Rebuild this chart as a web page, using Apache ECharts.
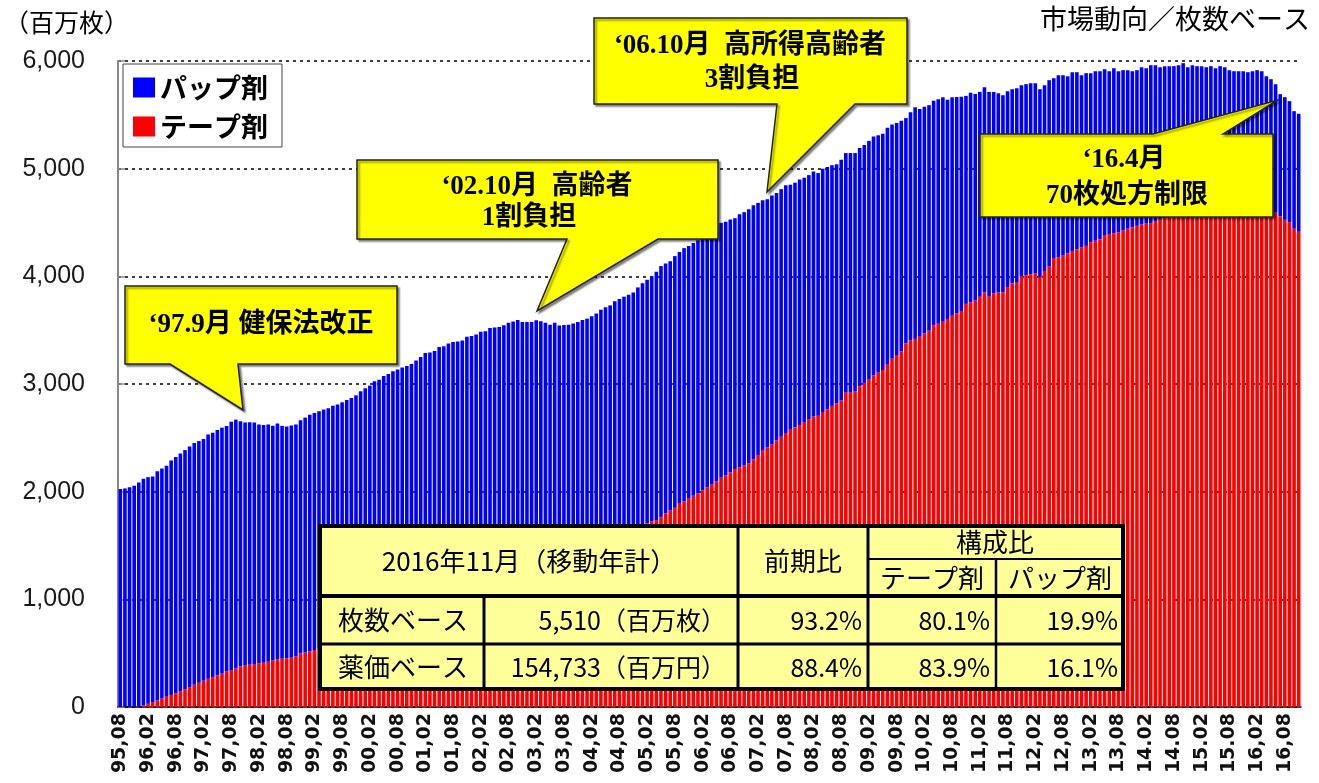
<!DOCTYPE html>
<html>
<head>
<meta charset="utf-8">
<script src="https://cdn.jsdelivr.net/npm/echarts@6/dist/echarts.min.js"></script>
<style>
html,body{margin:0;padding:0;background:#fff;}
#main{width:1319px;height:783px;}
</style>
</head>
<body>
<div id="main"></div>
<script>
// 横軸の目盛ラベル(半年ごと)
let tickLabels=['95,08','96,02','96,08','97,02','97,08','98,02','98,08','99,02','99,08','00,02','00,08',
    '01,02','01,08','02,02','02,08','03,02','03,08','04,02','04,08','05,02','05,08','06,02','06,08',
    '07,02','07,08','08,02','08,08','09,02','09,08','10,02','10,08','11,02','11,08','12,02','12,08',
    '13,02','13,08','14.02','14.08','15.02','15.08','16,02','16,08'];

// 合計(百万枚) 1995.08〜2016.11 月次・移動年計
let total=[
    2025,2030,2040,2055,2085,2120,2135,2140,2190,2215,2240,2290,
    2322,2355,2386,2420,2451,2470,2489,2531,2548,2573,2595,2611,
    2650,2669,2655,2643,2645,2643,2624,2620,2624,2612,2634,2611,
    2605,2614,2624,2663,2688,2714,2730,2747,2762,2775,2798,2810,
    2830,2852,2870,2895,2933,2960,2985,3026,3040,3074,3094,3119,
    3135,3154,3168,3185,3219,3251,3287,3292,3306,3344,3350,3376,
    3390,3395,3405,3440,3446,3460,3486,3490,3521,3525,3530,3545,
    3569,3580,3595,3575,3577,3575,3591,3582,3569,3550,3569,3543,
    3548,3550,3562,3575,3595,3607,3630,3655,3690,3714,3730,3769,
    3790,3811,3830,3849,3897,3936,3968,4000,4042,4095,4120,4141,
    4188,4225,4262,4281,4310,4335,4365,4400,4435,4465,4497,4506,
    4528,4540,4577,4596,4624,4661,4682,4707,4717,4751,4775,4810,
    4847,4850,4870,4900,4916,4940,4973,4959,5000,5016,5032,5040,
    5083,5145,5146,5145,5191,5220,5258,5298,5310,5324,5381,5410,
    5425,5445,5470,5523,5570,5555,5575,5590,5630,5645,5663,5640,
    5663,5665,5667,5676,5704,5694,5713,5757,5713,5713,5701,5682,
    5720,5738,5747,5775,5785,5794,5794,5738,5775,5822,5840,5868,
    5868,5859,5896,5896,5868,5887,5887,5905,5905,5924,5905,5933,
    5905,5915,5915,5905,5915,5942,5933,5961,5961,5942,5952,5952,
    5952,5961,5980,5942,5961,5952,5952,5942,5952,5933,5952,5942,
    5915,5905,5905,5905,5896,5905,5915,5905,5859,5831,5785,5692,
    5664,5627,5534,5510
];

// テープ剤(百万枚)
let tape=[
    0,0,0,0,0,15,30,45,60,78,95,112,
    128,145,165,185,207,225,243,262,278,292,310,330,
    342,357,378,384,392,400,405,412,420,432,445,448,
    452,458,470,497,505,515,530,541,548,555,563,570,
    579,586,594,603,613,622,631,641,652,662,671,683,
    695,705,718,731,741,755,769,780,794,810,822,837,
    854,867,884,901,915,933,951,966,985,1004,1020,1040,
    1060,1077,1098,1119,1136,1158,1180,1198,1221,1243,1262,1286,
    1309,1328,1353,1377,1396,1422,1447,1468,1494,1519,1540,1566,
    1591,1612,1638,1661,1675,1690,1705,1722,1738,1762,1800,1825,
    1850,1895,1910,1935,1962,1985,2010,2040,2065,2095,2129,2150,
    2180,2210,2225,2245,2265,2300,2340,2380,2410,2440,2475,2510,
    2545,2575,2597,2620,2647,2672,2697,2705,2740,2765,2797,2820,
    2847,2920,2925,2930,2980,3010,3040,3080,3105,3129,3186,3236,
    3262,3305,3379,3405,3419,3438,3470,3495,3545,3560,3578,3604,
    3640,3655,3678,3744,3760,3777,3810,3851,3817,3844,3851,3850,
    3901,3934,3940,4004,4010,4020,4027,3993,4050,4093,4170,4176,
    4193,4215,4236,4250,4270,4283,4316,4330,4345,4376,4393,4400,
    4409,4426,4442,4455,4469,4482,4490,4492,4515,4530,4540,4548,
    4556,4565,4572,4580,4588,4594,4600,4605,4612,4618,4622,4626,
    4630,4635,4632,4630,4628,4625,4625,4622,4620,4620,4590,4559,
    4525,4502,4442,4414
];

// パップ剤 = 合計 - テープ剤
let pap=total.map((t,i)=>t-tape[i]);

let months=[];
for(let i=0;i<total.length;i++){
    let m=7+i;
    months.push((1995+Math.floor(m/12))+'-'+String(m%12+1).padStart(2,'0'));
}

let jp="'Noto Sans CJK JP'";
let bold="bold 27px 'Liberation Serif', 'Noto Sans CJK JP'";

function callout(points){
    return {type:'polygon',z:100,shape:{points:points},
        style:{fill:'#FFFF00',stroke:'#222',lineWidth:1.5,
            shadowBlur:2,shadowOffsetX:2,shadowOffsetY:2,shadowColor:'rgba(0,0,0,0.45)'}};
}
function txt(x,y,text,font,align){
    return {type:'text',z:102,x:x,y:y,
        style:{text:text,font:font,fill:'#000',align:align||'center',verticalAlign:'middle',
            textAlign:align||'center',textVerticalAlign:'middle'}};
}
function line(x1,y1,x2,y2,w){
    return {type:'line',z:102,shape:{x1:x1,y1:y1,x2:x2,y2:y2},style:{stroke:'#000',lineWidth:w}};
}

let tf="26px "+jp;
let nf="25px "+jp;
let graphics=[
    txt(4,22,'（百万枚）',"25px "+jp,'left'),
    txt(1310,19,'市場動向／枚数ベース',"27px "+jp,'right'),

    // 吹き出し
    callout([[125,286],[397,286],[397,364],[238,364],[243,410],[170,364],[125,364]]),
    txt(261,325,'‘97.9月 健保法改正',bold),
    callout([[357,160],[718,160],[718,239],[658,239],[537,311],[567,239],[357,239]]),
    txt(537,187,'‘02.10月  高齢者',bold),
    txt(529,218,'1割負担',bold),
    callout([[594,18],[907,18],[907,104],[855,104],[767,192],[777,104],[594,104]]),
    txt(750,46,'‘06.10月  高所得高齢者',bold),
    txt(752,80,'3割負担',bold),
    callout([[980,134],[1153,134],[1278,100],[1223,134],[1273,134],[1273,217],[980,217]]),
    txt(1124,160,'‘16.4月',bold),
    txt(1127,196,'70枚処方制限',bold),

    // 表
    {type:'rect',z:101,shape:{x:320,y:526,width:803,height:163},
        style:{fill:'#FFFF99',stroke:'#000',lineWidth:4}},
    line(320,596,1123,596,4),
    line(320,644,1123,644,3),
    line(868,559,1123,559,2),
    line(484,596,484,689,3),
    line(738,526,738,689,3),
    line(868,526,868,689,3),
    line(996,559,996,689,2.5),
    txt(529,561,'2016年11月（移動年計）',tf),
    txt(803,561,'前期比',tf),
    txt(995,542,'構成比',tf),
    txt(932,578,'テープ剤',tf),
    txt(1060,578,'パップ剤',tf),
    txt(403,620,'枚数ベース',tf),
    txt(403,667,'薬価ベース',tf),
    txt(726,620,'5,510（百万枚）',nf,'right'),
    txt(726,667,'154,733（百万円）',nf,'right'),
    txt(862,620,'93.2%',nf,'right'),
    txt(862,667,'88.4%',nf,'right'),
    txt(990,620,'80.1%',nf,'right'),
    txt(990,667,'83.9%',nf,'right'),
    txt(1118,620,'19.9%',nf,'right'),
    txt(1118,667,'16.1%',nf,'right')
];

let myChart=echarts.init(document.getElementById('main'),null,{renderer:'canvas'});
let option={
    animation:false,
    backgroundColor:'#fff',
    grid:{left:118,right:18,top:61,bottom:76,containLabel:false,outerBoundsMode:'none'},
    legend:{
        data:['パップ剤','テープ剤'],
        orient:'vertical',left:123,top:64,
        backgroundColor:'#fff',borderColor:'#444',borderWidth:1,
        padding:[10,14,7,10],itemGap:12,itemWidth:22,itemHeight:20,icon:'rect',
        textStyle:{fontSize:27,fontWeight:'bold',color:'#000',fontFamily:'Noto Sans CJK JP'}
    },
    xAxis:{
        type:'category',data:months,
        axisLine:{lineStyle:{color:'#000',width:1.5}},
        axisTick:{show:true,inside:true,interval:5,alignWithLabel:true,length:5,lineStyle:{color:'#666'}},
        axisLabel:{interval:5,rotate:90,margin:6,
            formatter:function(v,i){return tickLabels[i/6]||'';},
            fontSize:19,fontWeight:'bold',fontFamily:'DejaVu Sans',color:'#111'},
        splitLine:{show:false}
    },
    yAxis:{
        type:'value',min:0,max:6000,interval:1000,
        axisLine:{show:true,lineStyle:{color:'#888',width:2}},
        axisTick:{show:true,inside:true,length:7,lineStyle:{color:'#888',width:1.5}},
        axisLabel:{formatter:function(v){return v.toLocaleString('en-US');},
            fontSize:25,color:'#1a1a1a',fontFamily:'Liberation Sans',margin:33},
        splitLine:{show:true,lineStyle:{color:'#000',type:[3,4],width:1.5}}
    },
    series:[{
        name:'テープ剤',type:'bar',stack:'all',data:tape,
        barCategoryGap:'22%',itemStyle:{color:'#FF0000'}
    },{
        name:'パップ剤',type:'bar',stack:'all',data:pap,
        barCategoryGap:'22%',itemStyle:{color:'#0000FF'}
    }],
    graphic:graphics
};
myChart.setOption(option);
</script>
</body>
</html>
